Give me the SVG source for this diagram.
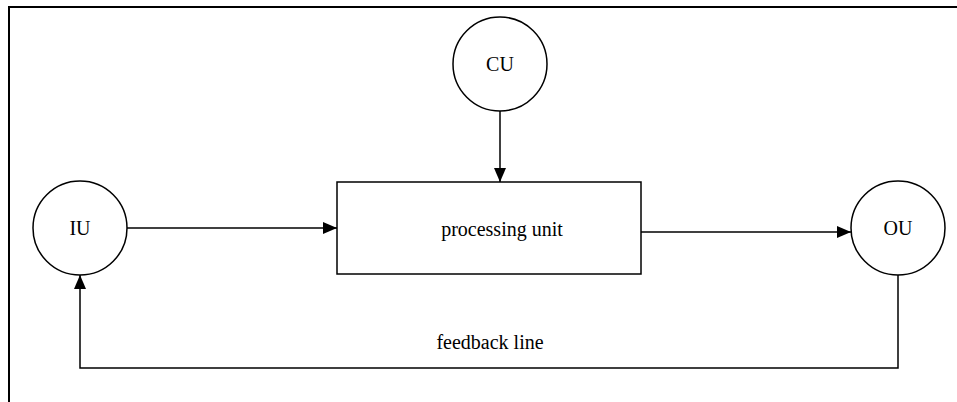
<svg xmlns="http://www.w3.org/2000/svg" width="957" height="402" viewBox="0 0 957 402">
<defs>
<marker id="arr" markerWidth="14" markerHeight="12" refX="14" refY="6" orient="auto" markerUnits="userSpaceOnUse">
<path d="M0,0 L14,6 L0,12 Z" fill="#000"/>
</marker>
<style>
.n{fill:#fff;stroke:#000;stroke-width:1.5}
.t{font-family:"Liberation Serif","Times New Roman",serif;font-size:20px;fill:#000;text-anchor:middle;dominant-baseline:central}
.c{fill:none;stroke:#000;stroke-width:1.5}
</style>
</defs>
<rect width="957" height="402" fill="#fff"/>
<rect x="9" y="7" width="970" height="420" fill="none" stroke="#000" stroke-width="2"/>
<g id="connectors">
<line class="c" x1="500" y1="111" x2="500" y2="182" marker-end="url(#arr)"/>
<line class="c" x1="127" y1="228" x2="337" y2="228" marker-end="url(#arr)"/>
<line class="c" x1="641" y1="232" x2="851" y2="232" marker-end="url(#arr)"/>
<polyline class="c" points="898,275 898,368 80,368 80,275" marker-end="url(#arr)"/>
<text class="t" x="490" y="342">feedback line</text>
</g>
<g id="CU"><circle class="n" cx="500" cy="64" r="47"/><text class="t" x="500" y="64">CU</text></g>
<g id="IU"><circle class="n" cx="80" cy="228" r="47"/><text class="t" x="80" y="228">IU</text></g>
<g id="OU"><circle class="n" cx="898" cy="228" r="47"/><text class="t" x="898" y="228">OU</text></g>
<g id="PU"><rect class="n" x="337" y="182" width="304" height="92"/><text class="t" x="502" y="229">processing unit</text></g>
</svg>
